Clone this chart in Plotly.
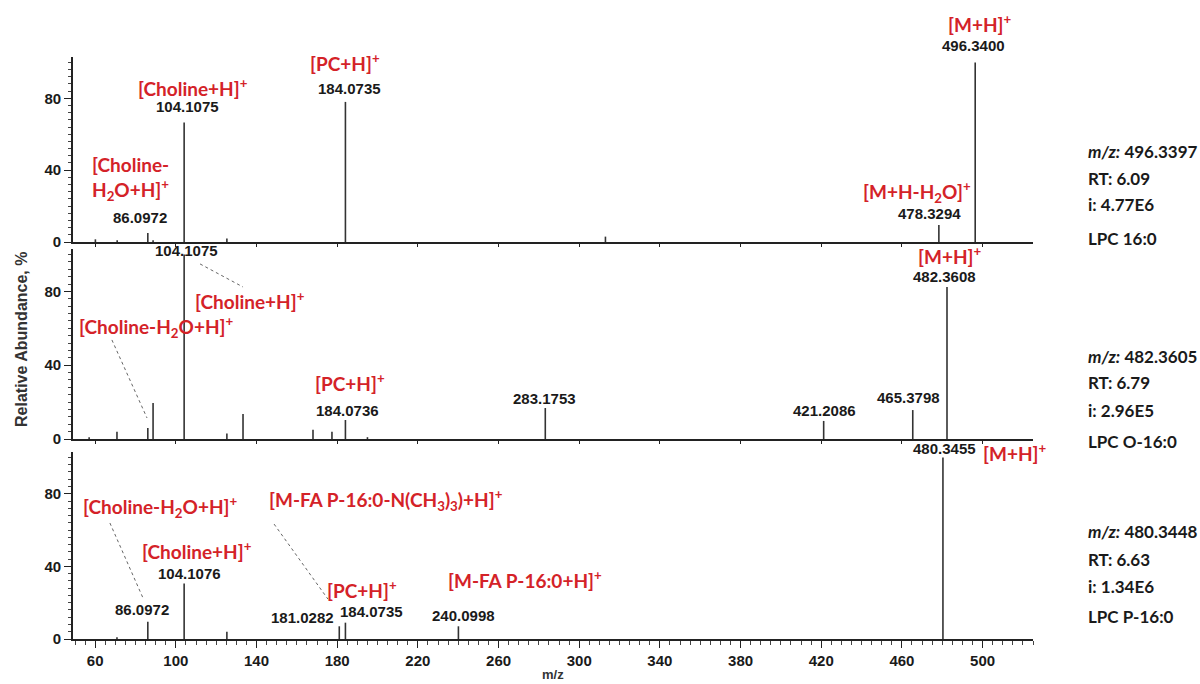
import plotly.graph_objects as go

# ---------------- data ----------------
top_mz = [60.1, 70.9, 86.0972, 88.7, 104.1075, 125.3, 184.0735, 313.0, 478.3294, 496.3400]
top_int = [1.5, 1.0, 5.0, 1.0, 66.5, 2.0, 78.0, 3.0, 9.5, 100.0]

mid_mz = [57.0, 70.8, 86.0972, 88.7, 104.1075, 125.3, 133.3, 168.0, 177.4, 184.0736,
          195.0, 283.1753, 421.2086, 465.3798, 482.3608]
mid_int = [1.0, 4.0, 6.0, 19.5, 100.0, 3.0, 13.5, 5.0, 4.0, 10.3,
           1.0, 16.8, 9.8, 15.7, 82.4]

bot_mz = [70.8, 86.0972, 104.1076, 125.3, 181.0282, 184.0735, 240.0998, 480.3455]
bot_int = [1.0, 9.5, 30.5, 4.0, 7.0, 9.0, 7.0, 100.0]

x_ticks = [60, 100, 140, 180, 220, 260, 300, 340, 380, 420, 460, 500]
y_ticks = [0, 40, 80]

info_top = ["<i>m/z:</i> 496.3397", "RT: 6.09", "i: 4.77E6", "LPC 16:0"]
info_mid = ["<i>m/z:</i> 482.3605", "RT: 6.79", "i: 2.96E5", "LPC O-16:0"]
info_bot = ["<i>m/z:</i> 480.3448", "RT: 6.63", "i: 1.34E6", "LPC P-16:0"]

RED = "#d42228"
BLK = "#1a1a1a"
STEM = "#333333"
LAB_FONT = "Lato"
NUM_FONT = "Liberation Sans"


def stems(mz, inten):
    xs, ys = [], []
    for m, v in zip(mz, inten):
        xs += [m, m, None]
        ys += [0, v, None]
    return xs, ys


fig = go.Figure()
for (mz, it, xa, ya) in [(top_mz, top_int, "x", "y"),
                         (mid_mz, mid_int, "x2", "y2"),
                         (bot_mz, bot_int, "x3", "y3")]:
    xs, ys = stems(mz, it)
    fig.add_trace(go.Scatter(x=xs, y=ys, mode="lines", xaxis=xa, yaxis=ya,
                             line=dict(color=STEM, width=1.6), showlegend=False,
                             hoverinfo="skip", cliponaxis=False))

XR = [49, 525]
YR = [0, 103]

common_x = dict(range=XR, showgrid=False, zeroline=False, showline=True,
                linecolor="#222", linewidth=1.6, tickmode="array", tickvals=x_ticks,
                ticks="outside", tickcolor="#222")
common_y = dict(range=YR, showgrid=False, zeroline=False, showline=True,
                linecolor="#222", linewidth=1.6, tickmode="array", tickvals=y_ticks,
                ticks="outside", ticklen=7, tickwidth=1.4, tickcolor="#222",
                tickfont=dict(family=NUM_FONT, size=15, color=BLK, weight="bold"),
                minor=dict(dtick=4, tick0=0, ticks="outside", ticklen=3,
                           tickcolor="#444", tickwidth=1))

fig.update_layout(
    width=1200, height=684,
    margin=dict(l=73, r=167, t=57, b=45),
    paper_bgcolor="white", plot_bgcolor="white",
    xaxis=dict(**common_x, anchor="y", ticklen=3, showticklabels=False),
    xaxis2=dict(**common_x, anchor="y2", ticklen=3, showticklabels=False, matches="x"),
    xaxis3=dict(**common_x, anchor="y3", ticklen=7, tickwidth=1.4, showticklabels=True,
                tickfont=dict(family=NUM_FONT, size=15, color=BLK, weight="bold"),
                minor=dict(dtick=5, tick0=50, ticks="outside", ticklen=4,
                           tickcolor="#444", tickwidth=1), matches="x"),
    yaxis=dict(**common_y, domain=[0.6821, 1.0], anchor="x"),
    yaxis2=dict(**common_y, domain=[0.3436, 0.6701], anchor="x2"),
    yaxis3=dict(**common_y, domain=[0.0, 0.3213], anchor="x3"),
)

ann = []


def lab(text, x, y, ax, ay, red=True, xanchor="center", align="center"):
    ann.append(dict(text=text, x=x, y=y, xref=ax, yref=ay, showarrow=False,
                    xanchor=xanchor, yanchor="middle", align=align,
                    font=dict(family=LAB_FONT if red else NUM_FONT,
                              size=19 if red else 15,
                              color=RED if red else BLK, weight="bold")))


# top panel
lab("[Choline+H]<sup>+</sup>", 108.5, 86.3, "x", "y")
lab("104.1075", 106, 75.2, "x", "y", red=False)
lab("[PC+H]<sup>+</sup>", 183.9, 100.2, "x", "y")
lab("184.0735", 186.3, 85.7, "x", "y", red=False)
lab("[Choline-<br>H<sub>2</sub>O+H]<sup>+</sup>", 57.4, 35.4, "x", "y", xanchor="left", align="left")
lab("86.0972", 82.2, 13.9, "x", "y", red=False)
lab("[M+H]<sup>+</sup>", 498.7, 1.058, "x", "paper")
lab("496.3400", 495.7, 1.0206, "x", "paper", red=False)
lab("[M+H-H<sub>2</sub>O]<sup>+</sup>", 467.4, 27.8, "x", "y")
lab("478.3294", 473.9, 16.1, "x", "y", red=False)

# middle panel
lab("104.1075", 105.5, 102.4, "x2", "y2", red=False)
lab("[Choline+H]<sup>+</sup>", 108.5, 75.3, "x2", "y2", xanchor="left")
lab("[Choline-H<sub>2</sub>O+H]<sup>+</sup>", 51.0, 60.7, "x2", "y2", xanchor="left")
lab("[PC+H]<sup>+</sup>", 186.3, 30.9, "x2", "y2")
lab("184.0736", 185.3, 15.2, "x2", "y2", red=False)
lab("283.1753", 283.0, 22.2, "x2", "y2", red=False)
lab("421.2086", 421.8, 15.2, "x2", "y2", red=False)
lab("465.3798", 463.5, 22.5, "x2", "y2", red=False)
lab("[M+H]<sup>+</sup>", 483.8, 99.6, "x2", "y2")
lab("482.3608", 481.3, 88.0, "x2", "y2", red=False)

# bottom panel
lab("[Choline-H<sub>2</sub>O+H]<sup>+</sup>", 53.0, 72.7, "x3", "y3", xanchor="left")
lab("[Choline+H]<sup>+</sup>", 110.5, 49.0, "x3", "y3")
lab("104.1076", 107.0, 36.3, "x3", "y3", red=False)
lab("86.0972", 83.2, 16.5, "x3", "y3", red=False)
lab("[M-FA P-16:0-N(CH<sub>3</sub>)<sub>3</sub>)+H]<sup>+</sup>", 145.2, 76.5, "x3", "y3", xanchor="left")
lab("[PC+H]<sup>+</sup>", 192.3, 27.0, "x3", "y3")
lab("181.0282", 163.0, 12.1, "x3", "y3", red=False)
lab("184.0735", 197.2, 14.9, "x3", "y3", red=False)
lab("[M-FA P-16:0+H]<sup>+</sup>", 273.1, 32.5, "x3", "y3")
lab("240.0998", 242.4, 13.2, "x3", "y3", red=False)
lab("480.3455", 481.3, 0.3265, "x3", "paper", red=False)
lab("[M+H]<sup>+</sup>", 516.0, 0.321, "x3", "paper")

# right-hand info blocks (paper y from pixel rows)
for block, ys in [(info_top, [0.837, 0.792, 0.746, 0.689]),
                  (info_mid, [0.486, 0.440, 0.393, 0.340]),
                  (info_bot, [0.184, 0.137, 0.091, 0.038])]:
    for t, yy in zip(block, ys):
        ann.append(dict(text=t, x=1.055, y=yy, xref="paper", yref="paper",
                        showarrow=False, xanchor="left", yanchor="middle",
                        font=dict(family=LAB_FONT, size=17, color=BLK, weight="bold")))

# axis titles
ann.append(dict(text="Relative Abundance, %", x=-0.053, y=0.514, xref="paper", yref="paper",
                textangle=-90, showarrow=False, xanchor="center", yanchor="middle",
                font=dict(family=NUM_FONT, size=16, color="#333", weight="bold")))
ann.append(dict(text="m/z", x=0.5, y=-0.061, xref="paper", yref="paper",
                showarrow=False, xanchor="center", yanchor="middle",
                font=dict(family=NUM_FONT, size=13, color="#333", weight="bold")))

fig.update_layout(annotations=ann)

# leader lines
shapes = []
for (x0, y0, x1, y1, xr, yr) in [(112.0, 94.9, 133.3, 82.4, "x2", "y2"),
                                 (68.3, 53.7, 85.7, 11.4, "x2", "y2"),
                                 (67.3, 63.9, 83.7, 22.6, "x3", "y3"),
                                 (148.7, 63.3, 175.4, 22.0, "x3", "y3")]:
    shapes.append(dict(type="line", x0=x0, y0=y0, x1=x1, y1=y1, xref=xr, yref=yr,
                       line=dict(color="#666", width=1, dash="dot")))
fig.update_layout(shapes=shapes)

fig.write_html("out.html")
